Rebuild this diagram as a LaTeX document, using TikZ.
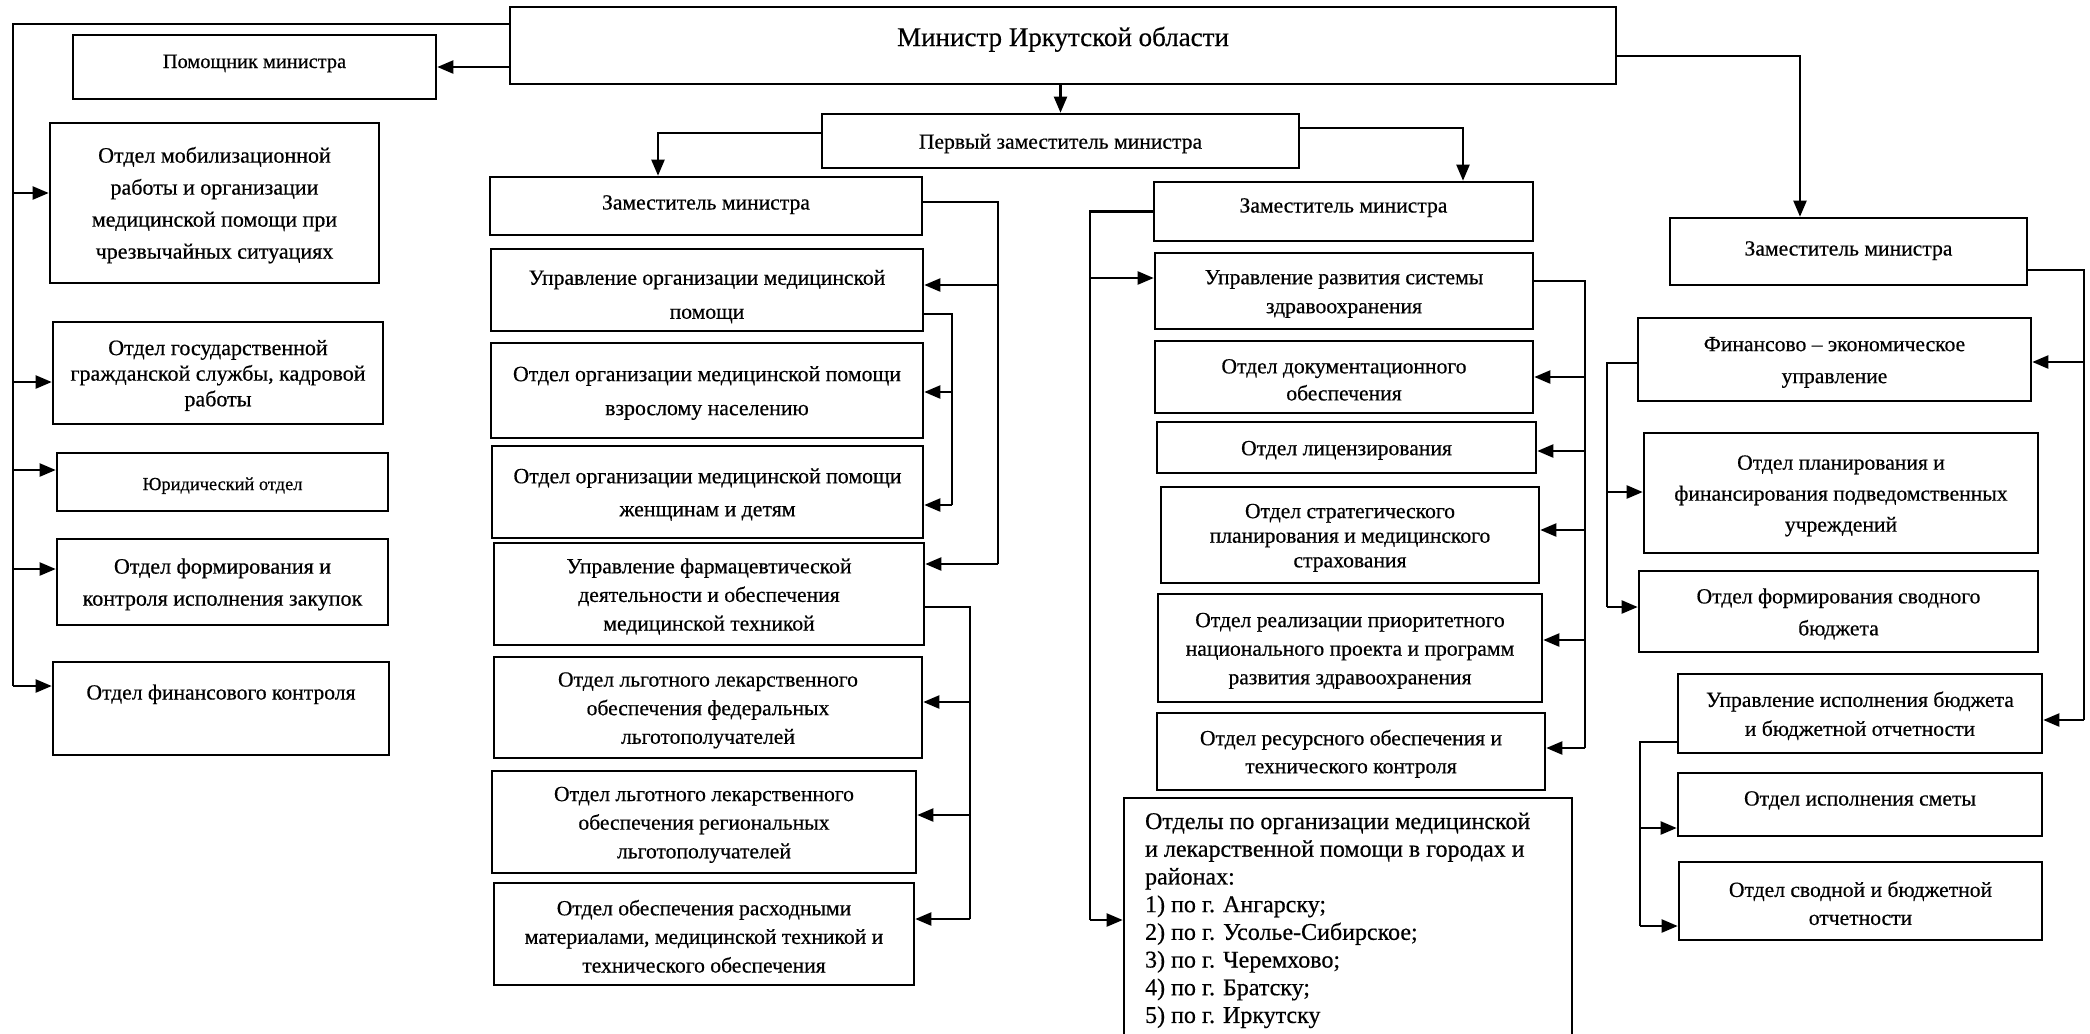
\documentclass[tikz,border=0pt]{standalone}
\usepackage{fontspec}
\setmainfont{Liberation Serif}[FakeBold=0.5]
\usetikzlibrary{arrows.meta,calc}
\newcommand\fs[2]{\fontsize{#1}{#2}\selectfont}
\newcommand\st[1]{\rule{0pt}{#1}}
\tikzset{
  box/.style={draw, line width=1.3pt, align=center, inner sep=0pt},
  nf/.style={font=\fs{10.8}{14.3}},
  ln/.style={line width=1.1pt},
  arr/.style={line width=1.1pt, -{Triangle[length=8pt,width=6.5pt]}},
}
% \bx{name}{x1}{y1}{x2}{y2}{options}{text}
\newcommand\bx[7]{\node[box,#6,minimum width={(#4-#2)*0.5pt},minimum height={(#5-#3)*0.5pt}] (#1) at ({(#2+#4)/2},{(#3+#5)/2}) {\st{10pt}#7};}
% arrow from trunk coordinate #1 to anchor #2 shifted by #3
\newcommand\arL[3]{\coordinate (tmp) at ([yshift=#3]#2); \draw[arr] (#1 |- tmp) -- (tmp);}
% trunk: trunk coord #1, source anchor #2 (shift #3), last target anchor #4 (shift #5)
\newcommand\trunk[5]{\coordinate (ts) at ([yshift=#3]#2); \coordinate (te) at ([yshift=#5]#4); \draw[ln] (ts) -| (#1 |- te);}
\begin{document}
\begin{tikzpicture}[x=0.5pt,y=-0.5pt]
\useasboundingbox (0,0) rectangle (2090,1034);
% ---------- top ----------
\bx{min}{510}{7}{1616}{84}{font=\fs{13.5}{16},text depth=9.5pt}{Министр Иркутской области}
\bx{perv}{822}{114}{1299}{168}{nf}{Первый заместитель министра}
% ---------- column A ----------
\bx{pom}{73}{35}{436}{99}{font=\fs{10.2}{13},text depth=9pt}{Помощник министра}
\bx{mob}{50}{123}{379}{283}{font=\fs{11}{16}}{Отдел мобилизационной\\работы и организации\\медицинской помощи при\\чрезвычайных ситуациях}
\bx{gos}{53}{322}{383}{424}{font=\fs{11}{12.8}}{Отдел государственной\\гражданской службы, кадровой\\работы}
\bx{yur}{57}{453}{388}{511}{font=\fs{9.2}{11}}{Юридический отдел}
\bx{zak}{57}{539}{388}{625}{font=\fs{11}{16}}{Отдел формирования и\\контроля исполнения закупок}
\bx{fin}{53}{662}{389}{755}{nf,text depth=19pt}{Отдел финансового контроля}
% ---------- column B ----------
\bx{zamB}{490}{177}{922}{235}{nf,text depth=6.5pt}{Заместитель министра}
\bx{uom}{491}{249}{923}{331}{font=\fs{10.8}{17}}{\st{14pt}Управление организации медицинской\\помощи}
\bx{vzr}{491}{343}{923}{438}{font=\fs{10.9}{17}}{Отдел организации медицинской помощи\\взрослому населению}
\bx{zhen}{492}{446}{923}{538}{font=\fs{10.9}{16.5}}{Отдел организации медицинской помощи\\женщинам и детям}
\bx{farm}{494}{543}{924}{645}{nf}{Управление фармацевтической\\деятельности и обеспечения\\медицинской техникой}
\bx{fed}{494}{657}{922}{758}{nf}{Отдел льготного лекарственного\\обеспечения федеральных\\льготополучателей}
\bx{reg}{492}{771}{916}{873}{nf}{Отдел льготного лекарственного\\обеспечения региональных\\льготополучателей}
\bx{rash}{494}{883}{914}{985}{nf}{Отдел обеспечения расходными\\материалами, медицинской техникой и\\технического обеспечения}
% ---------- column C ----------
\bx{zamC}{1154}{182}{1533}{241}{nf,text depth=9pt}{Заместитель министра}
\bx{urs}{1155}{253}{1533}{329}{font=\fs{10.8}{14.5}}{Управление развития системы\\здравоохранения}
\bx{dok}{1155}{341}{1533}{413}{font=\fs{10.8}{13.5}}{Отдел документационного\\обеспечения}
\bx{lic}{1157}{422}{1536}{473}{nf}{Отдел лицензирования}
\bx{str}{1161}{487}{1539}{583}{font=\fs{10.8}{12.3}}{Отдел стратегического\\планирования и медицинского\\страхования}
\bx{real}{1158}{594}{1542}{702}{nf}{Отдел реализации приоритетного\\национального проекта и программ\\развития здравоохранения}
\bx{res}{1157}{713}{1545}{790}{font=\fs{10.8}{14}}{Отдел ресурсного обеспечения и\\технического контроля}
\node[box,minimum width={(1572-1124)*0.5pt},minimum height={(1050-798)*0.5pt}] (otd) at ({(1124+1572)/2},{(798+1050)/2}) {};
\node[anchor=north west, align=left, inner sep=0pt, font=\fs{12}{13.85}] (otdt) at ([xshift=11pt,yshift=-7.75pt]otd.north west)
 {Отделы по организации медицинской\\и лекарственной помощи в городах и\\районах:\\1) по г. Ангарску;\\2) по г. Усолье-Сибирское;\\3) по г. Черемхово;\\4) по г. Братску;\\5) по г. Иркутску};
% ---------- column D ----------
\bx{zamD}{1670}{218}{2027}{285}{nf,text depth=6pt}{Заместитель министра}
\bx{fe}{1638}{318}{2031}{401}{font=\fs{10.8}{16}}{Финансово – экономическое\\управление}
\bx{plan}{1644}{433}{2038}{553}{font=\fs{10.8}{15.5}}{Отдел планирования и\\финансирования подведомственных\\учреждений}
\bx{svb}{1639}{571}{2038}{652}{font=\fs{10.8}{16}}{Отдел формирования сводного\\бюджета}
\bx{uib}{1678}{674}{2042}{753}{font=\fs{10.8}{14.5}}{Управление исполнения бюджета\\и бюджетной отчетности}
\bx{smet}{1678}{773}{2042}{836}{nf,text depth=9pt}{Отдел исполнения сметы}
\bx{svo}{1679}{862}{2042}{940}{font=\fs{10.8}{14}}{Отдел сводной и бюджетной\\отчетности}
% ---------- trunk coordinates ----------
\coordinate (tA) at (13,0);
\coordinate (tB1) at (998,0);
\coordinate (tB2) at (952,0);
\coordinate (tB3) at (970,0);
\coordinate (tC1) at (1090,0);
\coordinate (tC2) at (1585,0);
\coordinate (tD1) at (2084,0);
\coordinate (tD2) at (1607,0);
\coordinate (tD3) at (1640,0);
% ---------- top connectors ----------
\draw[arr] (min.south -| perv.north) -- (perv.north);
\coordinate (p1) at ([yshift=4pt]perv.west);
\draw[arr] (p1) -| ([xshift=-24pt]zamB.north);
\coordinate (p2) at ([yshift=6.5pt]perv.east);
\draw[arr] (p2) -| ([xshift=59.75pt]zamC.north);
\coordinate (m3) at ([yshift=-5.25pt]min.east);
\draw[arr] (m3) -| ([xshift=-24.25pt]zamD.north);
\coordinate (m2) at ([yshift=-10.75pt]min.west);
\draw[arr] (m2) -- (m2 -| pom.east);
% ---------- column A ----------
\trunk{tA}{min.west}{10.75pt}{fin.west}{11.25pt}
\arL{tA}{mob.west}{5pt}
\arL{tA}{gos.west}{-4.5pt}
\arL{tA}{yur.west}{6pt}
\arL{tA}{zak.west}{6.5pt}
\arL{tA}{fin.west}{11.25pt}
% ---------- column B ----------
\trunk{tB1}{zamB.east}{2pt}{farm.east}{15pt}
\arL{tB1}{uom.east}{2.5pt}
\arL{tB1}{farm.east}{15pt}
\trunk{tB2}{uom.east}{-12pt}{zhen.east}{-6.5pt}
\arL{tB2}{vzr.east}{-0.75pt}
\arL{tB2}{zhen.east}{-6.5pt}
\trunk{tB3}{farm.east}{-6.5pt}{rash.east}{7.5pt}
\arL{tB3}{fed.east}{2.75pt}
\arL{tB3}{reg.east}{3.5pt}
\arL{tB3}{rash.east}{7.5pt}
% ---------- column C ----------
\trunk{tC1}{zamC.west}{0pt}{otd.west}{2pt}
\arL{tC1}{urs.west}{6.5pt}
\arL{tC1}{otd.west}{2pt}
\trunk{tC2}{urs.east}{5pt}{res.east}{1.75pt}
\arL{tC2}{dok.east}{0pt}
\arL{tC2}{lic.east}{-1.75pt}
\arL{tC2}{str.east}{2.5pt}
\arL{tC2}{real.east}{4pt}
\arL{tC2}{res.east}{1.75pt}
% ---------- column D ----------
\trunk{tD1}{zamD.east}{-9.25pt}{uib.east}{-3.25pt}
\arL{tD1}{fe.east}{-1.25pt}
\arL{tD1}{uib.east}{-3.25pt}
\trunk{tD2}{fe.west}{-1.75pt}{svb.west}{2.25pt}
\arL{tD2}{plan.west}{0.5pt}
\arL{tD2}{svb.west}{2.25pt}
\trunk{tD3}{uib.west}{-14.25pt}{svo.west}{-12.5pt}
\arL{tD3}{smet.west}{-11.75pt}
\arL{tD3}{svo.west}{-12.5pt}
\end{tikzpicture}
\end{document}
